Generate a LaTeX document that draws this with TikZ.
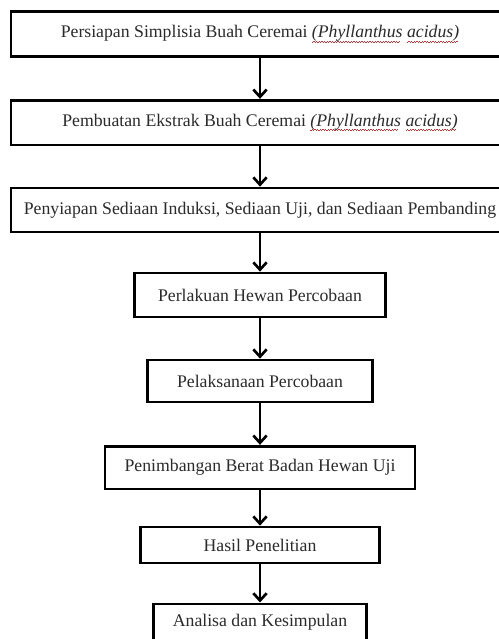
\documentclass[tikz,border=0pt]{standalone}
\usepackage{fontspec}
\setmainfont{Liberation Serif}
\usepackage{tikz}
\usetikzlibrary{positioning,arrows.meta}
\definecolor{boxtext}{HTML}{2B2B2B}
\definecolor{spellred}{HTML}{D03030}
% red wavy underline under the latin name
\newcommand{\latinname}[1]{\setbox0\hbox{\textit{#1}}%
  \rlap{\raisebox{-3.4pt}{\color{spellred}\leaders\hbox to 2pt{\rule[0pt]{1pt}{0.55pt}\rule[0.55pt]{1pt}{0.55pt}}\hskip\wd0}}\box0\relax}

\begin{document}
\begin{tikzpicture}[x=0.75pt, y=-0.75pt,
    stepbox/.style={draw=black, line width=2pt, fill=white, text=boxtext,
            font=\fontsize{13.3}{15}\selectfont, align=center, inner sep=0pt},
    flow/.style={-{Straight Barb[length=5.5pt, width=10pt]}, line width=2pt}]
      \useasboundingbox (0,0) rectangle (499,639);
      % Wide steps
      \node[stepbox, minimum width=373.5pt, minimum height=33.5pt]
            (simplisia) at (260,34) {Persiapan Simplisia Buah Ceremai \latinname{(Phyllanthus} \latinname{acidus)}};
      \node[stepbox, minimum width=373.5pt, minimum height=33.5pt]
            (ekstrak) at (260,122.5) {Pembuatan Ekstrak Buah Ceremai \latinname{(Phyllanthus} \latinname{acidus)}};
      \node[stepbox, minimum width=373.5pt, minimum height=33pt]
            (sediaan) at (260,210) {Penyiapan Sediaan Induksi, Sediaan Uji, dan Sediaan Pembanding};
      % Narrow steps
      \node[stepbox, minimum width=188pt, minimum height=33pt]
            (perlakuan) at (260,295) {Perlakuan Hewan Percobaan};
      \node[stepbox, minimum width=169pt, minimum height=31.5pt]
            (pelaksanaan) at (260,381) {Pelaksanaan Percobaan};
      \node[stepbox, minimum width=232.5pt, minimum height=32pt]
            (penimbangan) at (260,467.5) {Penimbangan Berat Badan Hewan Uji};
      \node[stepbox, minimum width=179pt, minimum height=27pt]
            (hasil) at (260,545) {Hasil Penelitian};
      \node[stepbox, minimum width=160pt, minimum height=28pt]
            (analisa) at (260,622.5) {Analisa dan Kesimpulan};
      % Arrows
      \draw[flow] (simplisia) -- (ekstrak);
      \draw[flow] (ekstrak) -- (sediaan);
      \draw[flow] (sediaan) -- (perlakuan);
      \draw[flow] (perlakuan) -- (pelaksanaan);
      \draw[flow] (pelaksanaan) -- (penimbangan);
      \draw[flow] (penimbangan) -- (hasil);
      \draw[flow] (hasil) -- (analisa);
\end{tikzpicture}
\end{document}
